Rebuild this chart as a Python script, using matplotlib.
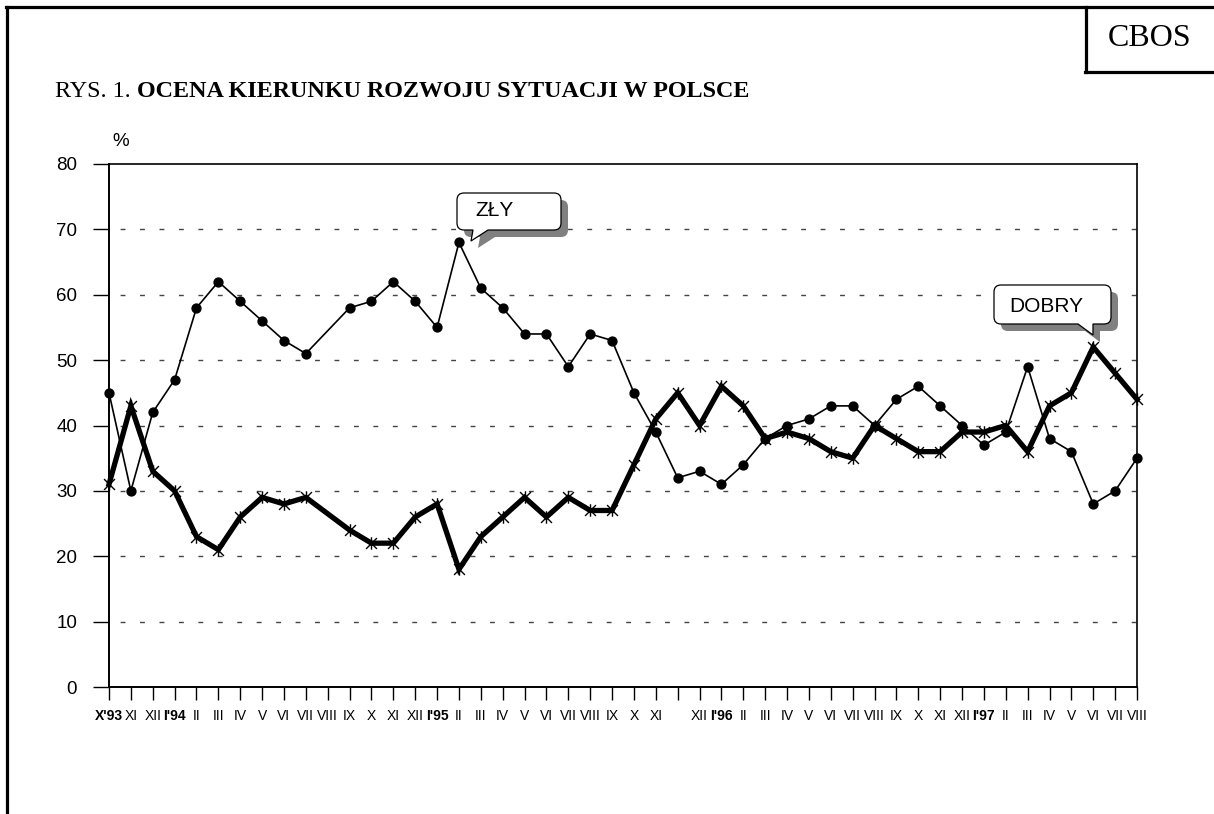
import matplotlib
matplotlib.use("Agg")
import matplotlib.pyplot as plt
from matplotlib.path import Path
from matplotlib.patches import PathPatch
from matplotlib.lines import Line2D
import numpy as np

# ---------------- data ----------------
months = ["X'93", "XI", "XII", "I'94", "II", "III", "IV", "V", "VI", "VII", "VIII",
          "IX", "X", "XI", "XII", "I'95", "II", "III", "IV", "V", "VI", "VII", "VIII",
          "IX", "X", "XI", "", "XII", "I'96", "II", "III", "IV", "V", "VI", "VII",
          "VIII", "IX", "X", "XI", "XII", "I'97", "II", "III", "IV", "V", "VI", "VII", "VIII"]
bold_labels = ["X'93", "I'94", "I'95", "I'96", "I'97"]

zly = [45, 30, 42, 47, 58, 62, 59, 56, 53, 51, None, 58, 59, 62, 59, 55, 68, 61, 58, 54,
       54, 49, 54, 53, 45, 39, 32, 33, 31, 34, 38, 40, 41, 43, 43, 40, 44, 46, 43, 40,
       37, 39, 49, 38, 36, 28, 30, 35]
dobry = [31, 43, 33, 30, 23, 21, 26, 29, 28, 29, None, 24, 22, 22, 26, 28, 18, 23, 26, 29,
         26, 29, 27, 27, 34, 41, 45, 40, 46, 43, 38, 39, 38, 36, 35, 40, 38, 36, 36, 39,
         39, 40, 36, 43, 45, 52, 48, 44]

yticks = [0, 10, 20, 30, 40, 50, 60, 70, 80]

# ---------------- figure ----------------
W, H = 1214, 814
fig = plt.figure(figsize=(W / 100, H / 100), dpi=100)
fig.patch.set_facecolor("white")

ax = fig.add_axes([109 / W, (H - 687) / H, (1137 - 109) / W, (687 - 164) / H])
ax.set_xlim(0, len(months) - 1)
ax.set_ylim(0, 80)

def valid(series):
    xs = [i for i, v in enumerate(series) if v is not None]
    ys = [v for v in series if v is not None]
    return xs, ys

# custom asterisk-like marker (X with vertical stroke)
star = Path([(-1, -1), (1, 1), (-1, 1), (1, -1), (0, -1.15), (0, 1.15)],
            [Path.MOVETO, Path.LINETO, Path.MOVETO, Path.LINETO, Path.MOVETO, Path.LINETO])

xz, yz = valid(zly)
ax.plot(xz, yz, color="black", lw=1.2, marker="o", ms=6.4, mfc="black", mec="black",
        zorder=3, clip_on=False)
xd, yd = valid(dobry)
ax.plot(xd, yd, color="black", lw=3.8, solid_joinstyle="miter", zorder=4, clip_on=False)
ax.plot(xd, yd, linestyle="none", marker=star, ms=9, mew=1.0, mec="black", zorder=5,
        clip_on=False)

# grid
for g in yticks[1:-1]:
    ax.axhline(g, color="#444444", lw=1.0, linestyle=(6, (3.5, 10.5)), zorder=1)

ax.set_yticks(yticks)
ax.set_yticklabels([str(t) for t in yticks], fontsize=13.5, family="Liberation Sans")
ax.set_xticks(range(len(months)))
ax.set_xticklabels(months, fontsize=10, family="Liberation Sans")
for lab in ax.get_xticklabels():
    if lab.get_text() in bold_labels:
        lab.set_fontweight("bold")
ax.tick_params(axis="y", direction="out", length=11.5, width=1.0, pad=11.5)
ax.tick_params(axis="x", direction="out", length=9.5, width=1.0, pad=6)
for s in ["left", "bottom"]:
    ax.spines[s].set_linewidth(1.4)
for s in ["top", "right"]:
    ax.spines[s].set_linewidth(1.2)

# ---------------- overlay in pixel coordinates ----------------
ov = fig.add_axes([0, 0, 1, 1], zorder=10)
ov.set_xlim(0, W)
ov.set_ylim(H, 0)
ov.axis("off")
ov.patch.set_alpha(0)

lw_frame = 2.3
ov.add_line(Line2D([7, 7], [7, H + 5], color="black", lw=lw_frame, clip_on=False))
ov.add_line(Line2D([5.5, W + 5], [7, 7], color="black", lw=lw_frame, clip_on=False))
ov.add_line(Line2D([1086, 1086], [7, 72], color="black", lw=lw_frame, clip_on=False))
ov.add_line(Line2D([1085, W + 5], [72, 72], color="black", lw=lw_frame, clip_on=False))
ov.text(1150, 38, "CBOS", fontsize=23, family="Liberation Serif", ha="center", va="center")

t1 = ov.text(55, 97, "RYS. 1. ", fontsize=17.4, family="Liberation Serif",
             ha="left", va="baseline")
ov.annotate("OCENA KIERUNKU ROZWOJU SYTUACJI W POLSCE", xy=(1, 0), xycoords=t1,
            fontsize=17.4, family="Liberation Serif", fontweight="bold",
            ha="left", va="bottom")

ov.text(112, 141, "%", fontsize=13.5, family="Liberation Sans", ha="left", va="center")


def bubble(x0, y0, x1, y1, r, bx0, bx1, tip):
    verts = [(x0 + r, y0), (x1 - r, y0), (x1, y0), (x1, y0 + r), (x1, y1 - r),
             (x1, y1), (x1 - r, y1), (bx1, y1), tip, (bx0, y1), (x0 + r, y1),
             (x0, y1), (x0, y1 - r), (x0, y0 + r), (x0, y0), (x0 + r, y0), (x0 + r, y0)]
    codes = [Path.MOVETO, Path.LINETO, Path.CURVE3, Path.CURVE3, Path.LINETO,
             Path.CURVE3, Path.CURVE3, Path.LINETO, Path.LINETO, Path.LINETO, Path.LINETO,
             Path.CURVE3, Path.CURVE3, Path.LINETO, Path.CURVE3, Path.CURVE3, Path.CLOSEPOLY]
    return Path(verts, codes)


def callout(x0, y0, x1, y1, bx0, bx1, tip, text, tx, ty, off=7):
    sh = bubble(x0 + off, y0 + off, x1 + off, y1 + off, 7, bx0 + off, bx1 + off,
                (tip[0] + off, tip[1] + off))
    ov.add_patch(PathPatch(sh, facecolor="#808080", edgecolor="none", clip_on=False))
    b = bubble(x0, y0, x1, y1, 7, bx0, bx1, tip)
    ov.add_patch(PathPatch(b, facecolor="white", edgecolor="black", lw=0.9, clip_on=False))
    ov.text(tx, ty, text, fontsize=15, family="Liberation Sans", ha="left", va="center")


callout(457, 193, 561, 230, 473, 488, (471, 241), "ZŁY", 475, 211)
callout(994, 285, 1111, 324, 1078, 1093, (1093, 335), "DOBRY", 1009, 306)

fig.savefig("out.png", dpi=100, facecolor="white")
